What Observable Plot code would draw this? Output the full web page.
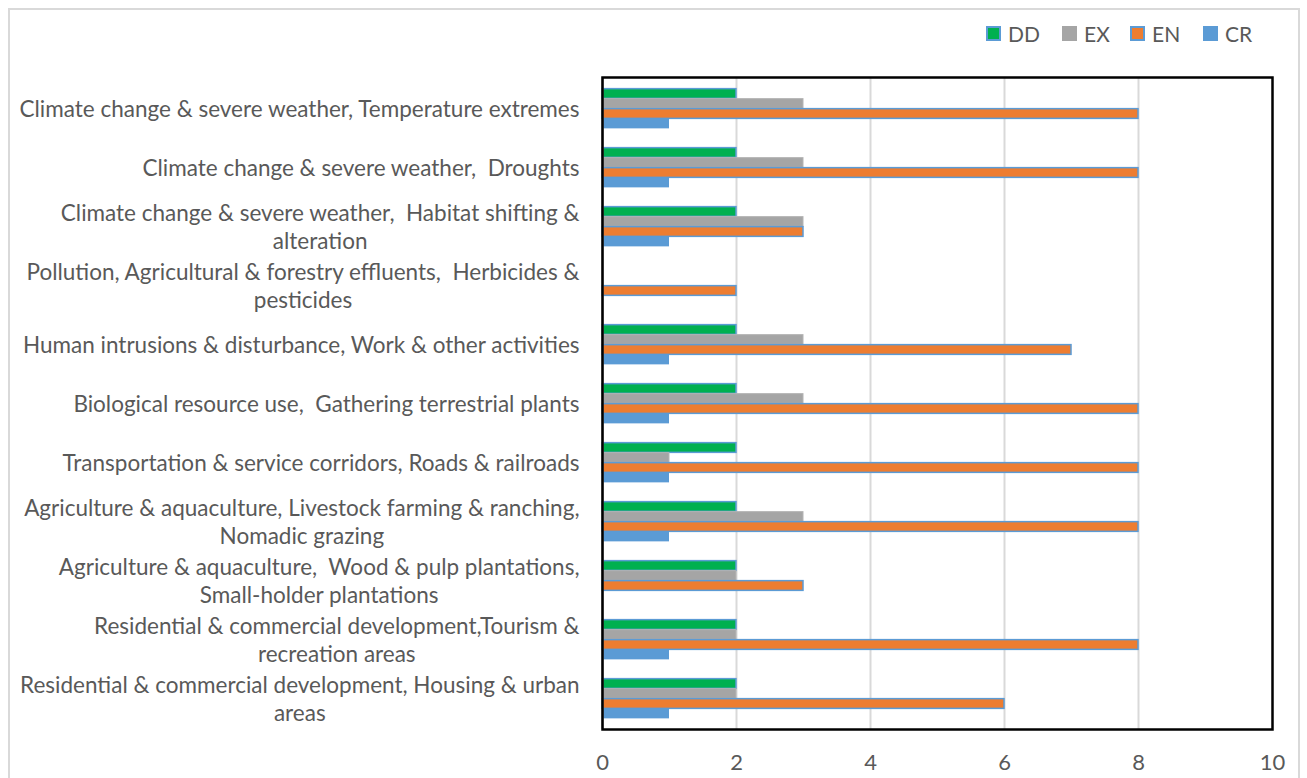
<!DOCTYPE html>
<html><head><meta charset="utf-8">
<script src="https://cdn.jsdelivr.net/npm/d3@7"></script>
<script src="https://cdn.jsdelivr.net/npm/@observablehq/plot@0.6"></script>
<style>
body{margin:0;background:#fff;font-family:Lato, "Open Sans", sans-serif;}
#wrap{position:relative;width:1307px;height:778px;overflow:hidden;}
#border{position:absolute;left:8px;top:8px;width:1292px;height:800px;border:2px solid #d9d9d9;box-sizing:border-box;pointer-events:none;}
#legend{position:relative;height:60px;}
.item{position:absolute;top:21px;height:24px;display:flex;align-items:center;font-size:21px;color:#595959;}
.sw{width:15px;height:15px;margin-right:7px;box-sizing:border-box;}
#chart{position:relative;}
</style></head>
<body>
<div id="wrap">
  <div id="border"></div>
  <div id="legend"></div>
  <div id="chart"></div>
</div>
<script>
const categories = [
  "Climate change & severe weather, Temperature extremes",
  "Climate change & severe weather,  Droughts",
  "Climate change & severe weather,  Habitat shifting &\nalteration",
  "Pollution, Agricultural & forestry effluents,  Herbicides &\npesticides",
  "Human intrusions & disturbance, Work & other activities",
  "Biological resource use,  Gathering terrestrial plants",
  "Transportation & service corridors, Roads & railroads",
  "Agriculture & aquaculture, Livestock farming & ranching,\nNomadic grazing",
  "Agriculture & aquaculture,  Wood & pulp plantations,\nSmall-holder plantations",
  "Residential & commercial development,Tourism &\nrecreation areas",
  "Residential & commercial development, Housing & urban\nareas"
];
const seriesNames = ["DD", "EX", "EN", "CR"];
const DD = [2, 2, 2, 0, 2, 2, 2, 2, 2, 2, 2];
const EX = [3, 3, 3, 0, 3, 3, 1, 3, 2, 2, 2];
const EN = [8, 8, 3, 2, 7, 8, 8, 8, 3, 8, 6];
const CR = [1, 1, 1, 0, 1, 1, 1, 1, 0, 1, 1];
const xTicks = [0, 2, 4, 6, 8, 10];

const valuesBySeries = {DD, EX, EN, CR};
const fills = {DD: "#00B050", EX: "#A5A5A5", EN: "#ED7D31", CR: "#5B9BD5"};
const strokes = {DD: "#5B9BD5", EX: "#B4B4B4", EN: "#5B9BD5", CR: "#5B9BD5"};
const offsets = {DD: -15, EX: -5, EN: 5, CR: 15};

const W = 1307, H = 718, mTop = 17, mBottom = 49, mLeft = 602, mRight = 35;
const band = (H - mTop - mBottom) / categories.length;
const barH = 10;
const inset = (band - barH) / 2;

const rows = seriesNames.flatMap(s => categories.map((c, i) => ({category: c, series: s, value: valuesBySeries[s][i]})));

// legend
const legend = document.getElementById("legend");
const legendLeft = {DD: 986, EX: 1062, EN: 1130, CR: 1203};
for (const s of seriesNames) {
  const item = document.createElement("div");
  item.className = "item";
  item.style.left = legendLeft[s] + "px";
  const sw = document.createElement("span");
  sw.className = "sw";
  sw.style.background = fills[s];
  if (s === "DD" || s === "EN") sw.style.border = "2px solid " + strokes[s];
  item.appendChild(sw);
  item.appendChild(document.createTextNode(s));
  legend.appendChild(item);
}

const barMarks = seriesNames.map(s => Plot.barX(rows.filter(d => d.series === s && d.value > 0), {
  x: "value", y: "category",
  fill: fills[s], stroke: strokes[s], strokeWidth: s === "CR" ? 0 : (s === "EX" ? 1 : 1.5),
  insetTop: inset, insetBottom: inset, dy: offsets[s]
}));

const plot = Plot.plot({
  width: W, height: H,
  marginTop: mTop, marginBottom: mBottom, marginLeft: mLeft, marginRight: mRight,
  style: {fontFamily: "Lato, 'Open Sans', sans-serif", color: "#595959", background: "transparent"},
  x: {domain: [0, 10], ticks: xTicks},
  y: {domain: categories, padding: 0},
  marks: [
    Plot.ruleX(xTicks.filter(t => t > 0 && t < 10), {stroke: "#d9d9d9", strokeWidth: 2, strokeOpacity: 1}),
    ...barMarks,
    Plot.ruleX([0], {stroke: "#a6a6a6", strokeWidth: 2, strokeOpacity: 1}),
    Plot.frame({stroke: "#000", strokeWidth: 2.5}),
    Plot.axisX({ticks: xTicks, tickSize: 0, tickPadding: 25, fontSize: 22, label: null, fill: "#595959"}),
    Plot.axisY({tickSize: 0, tickPadding: 23, fontSize: 22.5, dy: -1, label: null, lineHeight: 1.27, fill: "#595959", textOverflow: null})
  ]
});
document.getElementById("chart").appendChild(plot);

// center the wrapped lines of each category label within its block (block right-aligned)
plot.querySelectorAll('g[aria-label="y-axis tick label"] text').forEach(t => {
  const spans = t.querySelectorAll("tspan");
  if (spans.length < 2) return;
  let w = 0;
  spans.forEach(sp => { w = Math.max(w, sp.getComputedTextLength()); });
  t.setAttribute("text-anchor", "middle");
  spans.forEach(sp => sp.setAttribute("x", -w / 2));
});
</script>
</body></html>
